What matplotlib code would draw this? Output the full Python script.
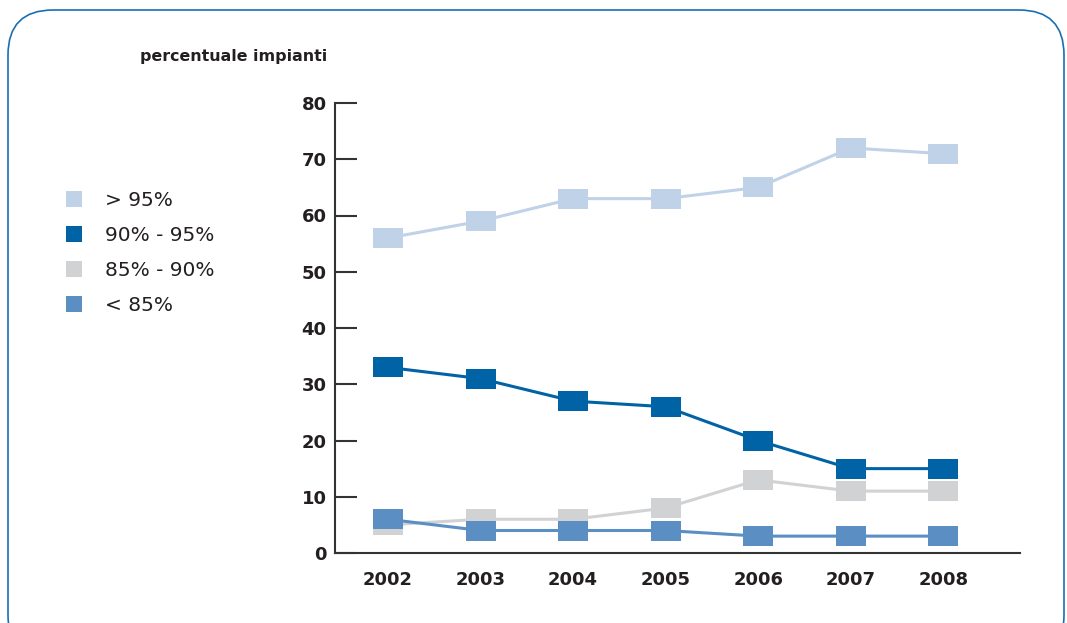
import matplotlib
matplotlib.use("Agg")
import matplotlib.pyplot as plt
from matplotlib.patches import FancyBboxPatch
from matplotlib.lines import Line2D
from matplotlib.path import Path

years = ["2002", "2003", "2004", "2005", "2006", "2007", "2008"]
over_95 = [56, 59, 63, 63, 65, 72, 71]
from_90_to_95 = [33, 31, 27, 26, 20, 15, 15]
from_85_to_90 = [5, 6, 6, 8, 13, 11, 11]
under_85 = [6, 4, 4, 4, 3, 3, 3]
series_labels = ["> 95%", "90% - 95%", "85% - 90%", "< 85%"]
y_ticks = [0, 10, 20, 30, 40, 50, 60, 70, 80]

colors = ["#bfd2e8", "#0063a6", "#d1d2d4", "#5b8fc4"]
text_color = "#231f20"

W, H = 1067, 623
fig = plt.figure(figsize=(W / 100, H / 100), dpi=100)

# background frame
bg = fig.add_axes([0, 0, 1, 1], zorder=0)
bg.set_xlim(0, W)
bg.set_ylim(H, 0)
bg.axis("off")
bg.add_patch(FancyBboxPatch((8, 10), 1056, 650,
                            boxstyle="round,pad=0,rounding_size=45",
                            facecolor="white", edgecolor="#1a6fb3", linewidth=1.2))

left, right, bottom, top = 335, 1020, 553, 103
ax = fig.add_axes([left / W, 1 - bottom / H, (right - left) / W, (bottom - top) / H], zorder=1)
ax.patch.set_alpha(0)

rect = Path([(-1.4, -1), (1.4, -1), (1.4, 1), (-1.4, 1), (-1.4, -1)],
            [Path.MOVETO, Path.LINETO, Path.LINETO, Path.LINETO, Path.CLOSEPOLY])

x = list(range(len(years)))
for vals, c in zip([over_95, from_90_to_95, from_85_to_90, under_85], colors):
    ax.plot(x, vals, color=c, linewidth=2.2, marker=rect, markersize=21,
            markeredgewidth=0, markerfacecolor=c, clip_on=False)

ax.set_ylim(0, 80)
ax.set_xlim(-0.573, 6.83)
ax.set_yticks(y_ticks)
ax.set_xticks(x)
ax.set_xticklabels(years)
for s in ["top", "right"]:
    ax.spines[s].set_visible(False)
for s in ["left", "bottom"]:
    ax.spines[s].set_color("#333333")
    ax.spines[s].set_linewidth(1.5)
ax.tick_params(axis="y", direction="in", length=16, width=1.5, color="#333333",
               pad=6, labelsize=13, labelcolor=text_color)
ax.tick_params(axis="x", length=0, pad=13, labelsize=13, labelcolor=text_color)
for lab in ax.get_xticklabels() + ax.get_yticklabels():
    lab.set_fontweight("bold")

fig.text(140 / W, 1 - 57 / H, "percentuale impianti", fontsize=11.4, fontweight="bold",
         color=text_color, va="center", ha="left")

handles = [Line2D([], [], linestyle="none", marker="s", markersize=11.5,
                  markerfacecolor=c, markeredgewidth=0) for c in colors]
fig.legend(handles, series_labels, loc="upper left", bbox_to_anchor=(64 / W, 1 - 191 / H),
           frameon=False, fontsize=14.5, handlelength=1.0, handletextpad=1.05,
           labelspacing=0.79, borderpad=0, borderaxespad=0, labelcolor=text_color)

fig.savefig("out.png", dpi=100)
